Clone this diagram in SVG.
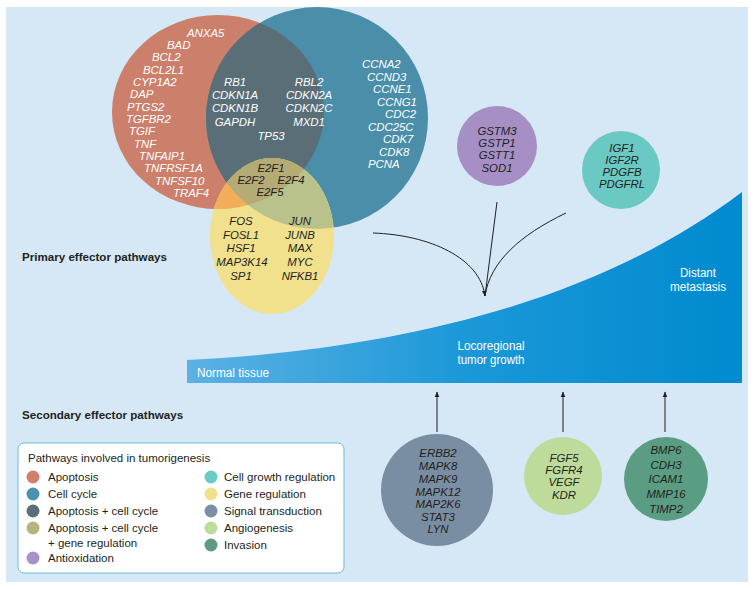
<svg xmlns="http://www.w3.org/2000/svg" width="756" height="589" viewBox="0 0 756 589">
<style>
.g{font-family:"Liberation Sans",Arial,sans-serif;font-style:italic;font-size:11.4px}
.w{fill:#ffffff}
.d{fill:#231f20}
.m{text-anchor:middle}
.lab{font-family:"Liberation Sans",Arial,sans-serif;font-weight:bold;font-size:11.6px;fill:#231f20}
.lg{font-family:"Liberation Sans",Arial,sans-serif;font-size:11.5px;fill:#231f20}
.st{font-family:"Liberation Sans",Arial,sans-serif;font-size:12.5px;fill:#ffffff}
.con{fill:none;stroke:#231f20;stroke-width:1}
</style>
<defs>
<clipPath id="cA"><ellipse cx="218" cy="112" rx="106" ry="97"/></clipPath>
<clipPath id="cB"><circle cx="317" cy="118" r="111"/></clipPath>
<linearGradient id="wedge" x1="187" y1="0" x2="742" y2="0" gradientUnits="userSpaceOnUse">
<stop offset="0" stop-color="#5cb1e3"/>
<stop offset="0.5" stop-color="#1b98d8"/>
<stop offset="1" stop-color="#008acf"/>
</linearGradient>
<marker id="ah" viewBox="0 0 10 10" refX="9" refY="5" markerWidth="6" markerHeight="6" orient="auto" markerUnits="userSpaceOnUse">
<path d="M0,1 L10,5 L0,9 z" fill="#231f20"/>
</marker>
</defs>
<rect x="0" y="0" width="756" height="589" fill="#ffffff"/>
<rect x="6" y="7" width="742" height="575" fill="#d6e7f6"/>

<g id="tumor-growth">
<path d="M187,360 C400,350 600,300 742,192 L742,383 L187,383 Z" fill="url(#wedge)"/>
<text class="st" x="197" y="377" textLength="72" lengthAdjust="spacingAndGlyphs">Normal tissue</text>
<text class="st m" x="491" y="350" textLength="67" lengthAdjust="spacingAndGlyphs">Locoregional</text>
<text class="st m" x="491" y="364" textLength="67" lengthAdjust="spacingAndGlyphs">tumor growth</text>
<text class="st m" x="698" y="277" textLength="36" lengthAdjust="spacingAndGlyphs">Distant</text>
<text class="st m" x="698" y="291" textLength="56" lengthAdjust="spacingAndGlyphs">metastasis</text>
</g>

<g id="venn">
<g id="apoptosis"><ellipse cx="218" cy="112" rx="106" ry="97" fill="#cc7f6a"/></g>
<g id="cell-cycle"><circle cx="317" cy="118" r="111" fill="#4a8eaa"/></g>
<g id="gene-regulation"><ellipse cx="272" cy="236" rx="62" ry="78" fill="#f1e08c"/></g>
<g id="apoptosis-cell-cycle" clip-path="url(#cA)"><circle cx="317" cy="118" r="111" fill="#5a6e77"/></g>
<g id="apoptosis-gene" clip-path="url(#cA)"><ellipse cx="272" cy="236" rx="62" ry="78" fill="#f2ad5b"/></g>
<g id="cellcycle-gene" clip-path="url(#cB)"><ellipse cx="272" cy="236" rx="62" ry="78" fill="#bac28b"/></g>
<g id="triple" clip-path="url(#cA)"><g clip-path="url(#cB)"><ellipse cx="272" cy="236" rx="62" ry="78" fill="#b5ab75"/></g></g>
</g>

<g id="apoptosis-genes" class="g w">
<text x="187" y="37">ANXA5</text>
<text x="167" y="49">BAD</text>
<text x="152" y="61">BCL2</text>
<text x="143" y="74">BCL2L1</text>
<text x="133" y="86">CYP1A2</text>
<text x="130" y="98">DAP</text>
<text x="127" y="111">PTGS2</text>
<text x="126" y="123">TGFBR2</text>
<text x="129" y="135">TGIF</text>
<text x="134" y="148">TNF</text>
<text x="139" y="160">TNFAIP1</text>
<text x="144" y="172">TNFRSF1A</text>
<text x="155" y="185">TNFSF10</text>
<text x="173" y="197">TRAF4</text>
</g>

<g id="overlap-genes" class="g w m">
<text x="235" y="86">RB1</text>
<text x="235" y="99">CDKN1A</text>
<text x="235" y="112">CDKN1B</text>
<text x="235" y="126">GAPDH</text>
<text x="309" y="86">RBL2</text>
<text x="309" y="99">CDKN2A</text>
<text x="309" y="112">CDKN2C</text>
<text x="309" y="126">MXD1</text>
<text x="271" y="140">TP53</text>
</g>

<g id="cellcycle-genes" class="g w">
<text x="362" y="68">CCNA2</text>
<text x="367" y="80.5">CCND3</text>
<text x="373" y="93">CCNE1</text>
<text x="377" y="105.5">CCNG1</text>
<text x="385" y="118">CDC2</text>
<text x="368" y="130.5">CDC25C</text>
<text x="383" y="143">CDK7</text>
<text x="379" y="155.5">CDK8</text>
<text x="368" y="168">PCNA</text>
</g>

<g id="triple-genes" class="g d m">
<text x="271" y="172">E2F1</text>
<text x="251" y="184">E2F2</text>
<text x="291" y="184">E2F4</text>
<text x="270" y="196">E2F5</text>
</g>

<g id="gene-reg-genes" class="g d m">
<text x="241" y="225">FOS</text>
<text x="241" y="239">FOSL1</text>
<text x="241" y="252">HSF1</text>
<text x="242" y="266">MAP3K14</text>
<text x="241" y="280">SP1</text>
<text x="300" y="225">JUN</text>
<text x="300" y="239">JUNB</text>
<text x="300" y="252">MAX</text>
<text x="300" y="266">MYC</text>
<text x="300" y="280">NFKB1</text>
</g>

<g id="antioxidation">
<circle cx="497" cy="146" r="40" fill="#a58fc4"/>
<g class="g d m">
<text x="497" y="135">GSTM3</text>
<text x="497" y="147">GSTP1</text>
<text x="497" y="159">GSTT1</text>
<text x="497" y="172">SOD1</text>
</g>
</g>

<g id="cell-growth">
<circle cx="621" cy="170" r="39" fill="#6bc9c4"/>
<g class="g d m">
<text x="622" y="152">IGF1</text>
<text x="622" y="164">IGF2R</text>
<text x="622" y="176">PDGFB</text>
<text x="622" y="188">PDGFRL</text>
</g>
</g>

<g id="signal-transduction">
<circle cx="437" cy="490" r="56" fill="#7a8ea3"/>
<g class="g d m">
<text x="438" y="457">ERBB2</text>
<text x="438" y="470">MAPK8</text>
<text x="438" y="483">MAPK9</text>
<text x="438" y="496">MAPK12</text>
<text x="438" y="508">MAP2K6</text>
<text x="438" y="521">STAT3</text>
<text x="438" y="533">LYN</text>
</g>
</g>

<g id="angiogenesis">
<circle cx="563" cy="476" r="39" fill="#bedb9c"/>
<g class="g d m">
<text x="564" y="462">FGF5</text>
<text x="564" y="474">FGFR4</text>
<text x="564" y="486">VEGF</text>
<text x="564" y="499">KDR</text>
</g>
</g>

<g id="invasion">
<circle cx="666" cy="479" r="42" fill="#5a9d82"/>
<g class="g d m">
<text x="666" y="454">BMP6</text>
<text x="666" y="469">CDH3</text>
<text x="666" y="483">ICAM1</text>
<text x="666" y="498">MMP16</text>
<text x="666" y="513">TIMP2</text>
</g>
</g>

<g id="connectors">
<path class="con" d="M373,233 C430,235 480,258 485,296" marker-end="url(#ah)"/>
<path class="con" d="M497,202 L485,296"/>
<path class="con" d="M566,213 C520,235 490,262 485,296"/>
<path class="con" d="M437,432 L437,392" marker-end="url(#ah)"/>
<path class="con" d="M563,432 L563,392" marker-end="url(#ah)"/>
<path class="con" d="M665,432 L665,392" marker-end="url(#ah)"/>
</g>

<text class="lab" x="22" y="261">Primary effector pathways</text>
<text class="lab" x="22" y="419">Secondary effector pathways</text>

<g id="legend">
<rect x="18" y="443" width="326" height="130" rx="6" fill="#ffffff" stroke="#6cb9e2" stroke-width="1"/>
<text class="lg" x="28" y="462">Pathways involved in tumorigenesis</text>
<circle cx="33" cy="477" r="6.5" fill="#d0806c"/><text class="lg" x="48" y="481">Apoptosis</text>
<circle cx="33" cy="494" r="6.5" fill="#4a93ad"/><text class="lg" x="48" y="498">Cell cycle</text>
<circle cx="33" cy="511" r="6.5" fill="#5b6f78"/><text class="lg" x="48" y="515">Apoptosis + cell cycle</text>
<circle cx="33" cy="528" r="6.5" fill="#b5b37e"/><text class="lg" x="48" y="532">Apoptosis + cell cycle</text>
<text class="lg" x="48" y="547">+ gene regulation</text>
<circle cx="33" cy="558" r="6.5" fill="#a691c8"/><text class="lg" x="48" y="562">Antioxidation</text>
<circle cx="211" cy="477" r="6.5" fill="#6acbc6"/><text class="lg" x="224" y="481">Cell growth regulation</text>
<circle cx="211" cy="494" r="6.5" fill="#f0e28c"/><text class="lg" x="224" y="498">Gene regulation</text>
<circle cx="211" cy="511" r="6.5" fill="#7c8fa5"/><text class="lg" x="224" y="515">Signal transduction</text>
<circle cx="211" cy="528" r="6.5" fill="#bcdc9e"/><text class="lg" x="224" y="532">Angiogenesis</text>
<circle cx="211" cy="545" r="6.5" fill="#5c9c82"/><text class="lg" x="224" y="549">Invasion</text>
</g>
</svg>
